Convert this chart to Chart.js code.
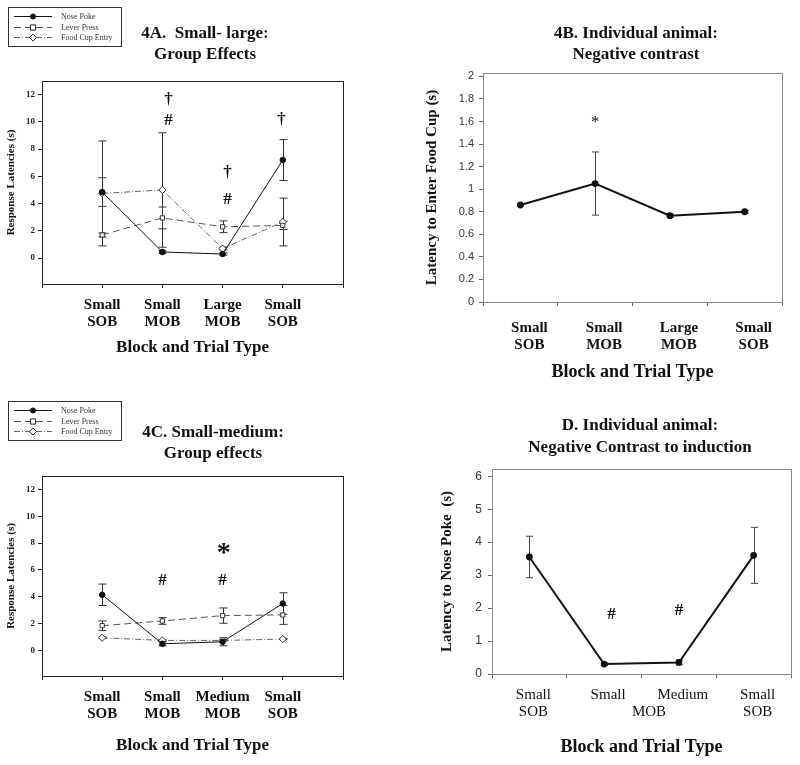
<!DOCTYPE html>
<html>
<head>
<meta charset="utf-8">
<script src="https://cdn.jsdelivr.net/npm/chart.js@4.4.0/dist/chart.umd.min.js"></script>
<style>
html, body { margin: 0; padding: 0; background: #fff; }
#fig { position: relative; width: 800px; height: 765px; overflow: hidden; }
#fig canvas { position: absolute; }
.ttl { position: absolute; text-align: center; white-space: nowrap; color: #111;
       font: bold 17px "Liberation Serif", "Times New Roman", serif; line-height: 21px; }
</style>
</head>
<body>
<div id="fig">
  <canvas id="chartA" width="400" height="385" style="left:0;top:0"></canvas>
  <canvas id="chartB" width="400" height="385" style="left:400px;top:0"></canvas>
  <canvas id="chartC" width="400" height="380" style="left:0;top:385px"></canvas>
  <canvas id="chartD" width="400" height="380" style="left:400px;top:385px"></canvas>
  <div class="ttl" style="left:105px;top:22px;width:200px">4A.&nbsp; Small- large:<br>Group Effects</div>
  <div class="ttl" style="left:536px;top:22px;width:200px">4B. Individual animal:<br>Negative contrast</div>
  <div class="ttl" style="left:113px;top:421px;width:200px">4C. Small-medium:<br>Group effects</div>
  <div class="ttl" style="left:490px;top:414px;width:300px;line-height:22px">D. Individual animal:<br>Negative Contrast to induction</div>
</div>
<script>
//<![CDATA[

// ---- data ----
let seriesNames = ['Nose Poke', 'Lever Press', 'Food Cup Entry'];

// 4A. small-large, group
let catsA = [['Small', 'SOB'], ['Small', 'MOB'], ['Large', 'MOB'], ['Small', 'SOB']];
let noseA = [4.85, 0.45, 0.3, 7.2];
let noseErrA = [1.05, 0.1, 0.08, 1.5];
let leverA = [1.7, 2.95, 2.3, 2.4];
let leverErrA = [0.15, 0.8, 0.43, 0.3];
let foodA = [4.75, 5.0, 0.7, 2.65];
let foodErrA = [3.85, 4.2, 0.1, 1.75];
let marksA = [
    { x: 2.1, y: 11.6, t: '†' },
    { x: 2.1, y: 10.1, t: '#' },
    { x: 3.08, y: 6.3, t: '†' },
    { x: 3.08, y: 4.3, t: '#' },
    { x: 3.98, y: 10.2, t: '†' }
];

// 4B. individual animal, food cup
let catsB = [['Small', 'SOB'], ['Small', 'MOB'], ['Large', 'MOB'], ['Small', 'SOB']];
let foodCupB = [0.86, 1.05, 0.765, 0.8];
let foodCupErrB = [0.01, 0.28, 0.015, 0.01];
let yTicksB = [0, 0.2, 0.4, 0.6, 0.8, 1, 1.2, 1.4, 1.6, 1.8, 2];
let marksB = [{ x: 1, y: 1.59, t: '*' }];

// 4C. small-medium, group
let catsC = [['Small', 'SOB'], ['Small', 'MOB'], ['Medium', 'MOB'], ['Small', 'SOB']];
let noseC = [4.15, 0.5, 0.65, 3.5];
let noseErrC = [0.8, 0.15, 0.3, 0.8];
let leverC = [1.85, 2.2, 2.6, 2.65];
let leverErrC = [0.35, 0.25, 0.57, 0.7];
let foodC = [0.95, 0.75, 0.75, 0.85];
let foodErrC = [0.05, 0.05, 0.05, 0.05];
let marksC = [
    { x: 2, y: 5.24, t: '#' },
    { x: 3, y: 5.24, t: '#' },
    { x: 3.02, y: 7.2, t: '*', big: true }
];

// D. individual animal, nose poke
let catsD = [['Small', 'SOB'], ['Small'], ['Medium'], ['Small', 'SOB']];
let nosePokeD = [3.55, 0.3, 0.35, 3.6];
let nosePokeErrD = [0.63, 0.04, 0.07, 0.85];
let yTicksD = [0, 1, 2, 3, 4, 5, 6];
let marksD = [
    { x: 1.1, y: 1.8, t: '#' },
    { x: 2, y: 1.93, t: '#' },
    { x: 1.6, dy: 38, t: 'MOB', plain: true }
];

let yTicksGroup = [0, 2, 4, 6, 8, 10, 12];

const SERIF = '"Liberation Serif", "Times New Roman", serif';
const SANS = '"Liberation Sans", Arial, sans-serif';

// ---- plugins ----
const errorBars = {
    id: 'errorBars',
    beforeDatasetsDraw(chart, args, opts) {
        const ctx = chart.ctx;
        const ys = chart.scales.y;
        ctx.save();
        ctx.strokeStyle = opts.color || '#333';
        ctx.lineWidth = 1;
        chart.data.datasets.forEach((ds, i) => {
            if (!ds.errors) return;
            const meta = chart.getDatasetMeta(i);
            meta.data.forEach((pt, j) => {
                const e = ds.errors[j];
                const d = ds.data[j];
                const v = typeof d === 'object' ? d.y : d;
                if (e == null || v == null) return;
                const x = Math.round(pt.x) + 0.5;
                const yt = ys.getPixelForValue(v + e);
                const yb = ys.getPixelForValue(v - e);
                const c = opts.cap || 4;
                ctx.beginPath();
                ctx.moveTo(x, yt); ctx.lineTo(x, yb);
                ctx.moveTo(x - c, yt); ctx.lineTo(x + c, yt);
                ctx.moveTo(x - c, yb); ctx.lineTo(x + c, yb);
                ctx.stroke();
            });
        });
        ctx.restore();
    }
};

const frame = {
    id: 'frame',
    beforeDatasetsDraw(chart, args, opts) {
        const { left, top, right, bottom } = chart.chartArea;
        const ctx = chart.ctx;
        ctx.save();
        ctx.strokeStyle = opts.color || '#222';
        ctx.lineWidth = 1;
        ctx.strokeRect(Math.round(left) + 0.5, Math.round(top) + 0.5,
            Math.round(right - left), Math.round(bottom - top));
        ctx.restore();
    }
};

const marks = {
    id: 'marks',
    afterDatasetsDraw(chart, args, opts) {
        const ctx = chart.ctx, xs = chart.scales.x, ys = chart.scales.y;
        ctx.save();
        ctx.fillStyle = '#111';
        ctx.textAlign = 'center';
        ctx.textBaseline = 'middle';
        (opts.items || []).forEach(m => {
            ctx.font = m.big ? opts.bigFont : (m.plain ? opts.plainFont : opts.font);
            const y = m.dy != null ? chart.chartArea.bottom + m.dy : ys.getPixelForValue(m.y);
            ctx.fillText(m.t, xs.getPixelForValue(m.x), y);
        });
        ctx.restore();
    }
};

function drawMarker(ctx, style, x, y, r) {
    ctx.beginPath();
    if (style === 'rect') {
        ctx.rect(x - r, y - r, 2 * r, 2 * r);
    } else if (style === 'rectRot') {
        ctx.moveTo(x, y - r - 1); ctx.lineTo(x + r + 1, y);
        ctx.lineTo(x, y + r + 1); ctx.lineTo(x - r - 1, y); ctx.closePath();
    } else {
        ctx.arc(x, y, r, 0, Math.PI * 2);
    }
    ctx.fill();
    ctx.stroke();
}

const boxLegend = {
    id: 'boxLegend',
    afterDraw(chart, args, opts) {
        const ctx = chart.ctx;
        ctx.save();
        ctx.lineWidth = 1;
        ctx.strokeStyle = '#333';
        ctx.strokeRect(opts.x + 0.5, opts.y + 0.5, opts.w, opts.h);
        ctx.font = '8px ' + SERIF;
        ctx.textBaseline = 'middle';
        chart.data.datasets.forEach((ds, i) => {
            const y = Math.round(opts.y + 9 + i * 10.5) + 0.5;
            ctx.strokeStyle = ds.borderColor;
            ctx.setLineDash(ds.borderDash || []);
            ctx.beginPath();
            ctx.moveTo(opts.x + 6, y); ctx.lineTo(opts.x + 44, y);
            ctx.stroke();
            ctx.setLineDash([]);
            ctx.fillStyle = ds.pointBackgroundColor;
            ctx.strokeStyle = '#222';
            drawMarker(ctx, ds.pointStyle, opts.x + 25, y, 2.6);
            ctx.fillStyle = '#333';
            ctx.fillText(ds.label, opts.x + 53, y);
        });
        ctx.restore();
    }
};

// ---- group charts (A, C) ----
function groupChart(id, cats, nose, noseErr, lever, leverErr, food, foodErr, markList, pad, xHeight, legendY) {
    const pts = arr => arr.map((v, i) => ({ x: i + 1, y: v }));
    const xTicks = Array.from({ length: cats.length + 2 }, (_, i) => i);
    return new Chart(document.getElementById(id), {
        type: 'line',
        data: {
            datasets: [
                {
                    label: seriesNames[0], data: pts(nose), errors: noseErr,
                    borderColor: '#111', borderWidth: 1, pointStyle: 'circle', pointRadius: 2.8,
                    pointBackgroundColor: '#111', pointBorderColor: '#111'
                },
                {
                    label: seriesNames[1], data: pts(lever), errors: leverErr,
                    borderColor: '#555', borderWidth: 1, borderDash: [7, 4], pointStyle: 'rect', pointRadius: 3,
                    pointBackgroundColor: '#fff', pointBorderColor: '#333'
                },
                {
                    label: seriesNames[2], data: pts(food), errors: foodErr,
                    borderColor: '#666', borderWidth: 1, borderDash: [6, 2, 1, 2], pointStyle: 'rectRot', pointRadius: 3.6,
                    pointBackgroundColor: '#fff', pointBorderColor: '#333'
                }
            ]
        },
        options: {
            responsive: false,
            animation: false,
            devicePixelRatio: 1,
            layout: { padding: pad },
            plugins: {
                legend: { display: false },
                tooltip: { enabled: false },
                errorBars: { color: '#333', cap: 4 },
                frame: { color: '#222' },
                marks: {
                    items: markList,
                    font: 'bold 17px ' + SERIF,
                    bigFont: 'bold 28px ' + SERIF,
                    plainFont: '15px ' + SERIF
                },
                boxLegend: { x: 8, y: legendY, w: 113, h: 39 }
            },
            scales: {
                x: {
                    type: 'linear', min: 0, max: cats.length + 1,
                    afterBuildTicks: s => { s.ticks = xTicks.map(v => ({ value: v })); },
                    afterFit: s => { s.height = xHeight; },
                    ticks: {
                        callback: v => cats[v - 1] || '',
                        font: { family: SERIF, size: 15, weight: 'bold', lineHeight: 1.15 },
                        color: '#111', padding: 8, maxRotation: 0, autoSkip: false
                    },
                    grid: { drawOnChartArea: false, drawTicks: true, tickLength: 4, color: '#222' },
                    border: { display: true, color: '#222' },
                    title: {
                        display: true, text: 'Block and Trial Type', color: '#111',
                        font: { family: SERIF, size: 17, weight: 'bold' },
                        padding: { top: 0, bottom: pad.xTitle }
                    }
                },
                y: {
                    min: -1.9, max: 13,
                    afterBuildTicks: s => { s.ticks = yTicksGroup.map(v => ({ value: v })); },
                    afterFit: s => { s.width = 42; },
                    ticks: {
                        font: { family: SERIF, size: 9, weight: 'bold' },
                        color: '#222', padding: 3
                    },
                    grid: { drawOnChartArea: false, drawTicks: true, tickLength: 4, color: '#222' },
                    border: { display: true, color: '#222' },
                    title: {
                        display: true, text: 'Response Latencies (s)', color: '#111',
                        font: { family: SERIF, size: 11, weight: 'bold' },
                        padding: { top: 5, bottom: 0 }
                    }
                }
            }
        },
        plugins: [errorBars, frame, marks, boxLegend]
    });
}

// ---- individual charts (B, D) ----
function singleChart(id, cats, values, errs, markList, cfg) {
    return new Chart(document.getElementById(id), {
        type: 'line',
        data: {
            labels: cats,
            datasets: [{
                label: cfg.series, data: values, errors: errs,
                borderColor: '#111', borderWidth: 2, pointStyle: 'circle', pointRadius: 2.4,
                pointBackgroundColor: '#111', pointBorderColor: '#111'
            }]
        },
        options: {
            responsive: false,
            animation: false,
            devicePixelRatio: 1,
            layout: { padding: cfg.pad },
            plugins: {
                legend: { display: false },
                tooltip: { enabled: false },
                errorBars: { color: '#444', cap: 3.5 },
                frame: { color: '#888' },
                marks: {
                    items: markList,
                    font: cfg.markFont,
                    bigFont: cfg.markFont,
                    plainFont: '15px ' + SERIF
                }
            },
            scales: {
                x: {
                    type: 'category', offset: true,
                    afterFit: s => { s.height = cfg.xHeight; },
                    ticks: {
                        font: { family: SERIF, size: 15, weight: cfg.xWeight, lineHeight: 1.15 },
                        color: '#111', padding: cfg.xPad, labelOffset: cfg.labelOffset,
                        maxRotation: 0, autoSkip: false
                    },
                    grid: { offset: true, drawOnChartArea: false, drawTicks: true, tickLength: 4, color: '#666' },
                    border: { display: true, color: '#555' },
                    title: {
                        display: true, text: 'Block and Trial Type', color: '#111',
                        font: { family: SERIF, size: 18, weight: 'bold' },
                        padding: { top: 0, bottom: cfg.xTitlePad }
                    }
                },
                y: {
                    min: 0, max: cfg.yMax,
                    afterBuildTicks: s => { s.ticks = cfg.yTicks.map(v => ({ value: v })); },
                    afterFit: s => { s.width = cfg.yWidth; },
                    ticks: {
                        callback: v => String(Math.round(v * 10) / 10),
                        font: { family: SANS, size: cfg.yFont },
                        color: '#333', padding: cfg.yPad
                    },
                    grid: { drawOnChartArea: false, drawTicks: true, tickLength: 4, color: '#666' },
                    border: { display: true, color: '#555' },
                    title: {
                        display: true, text: cfg.yTitle, color: '#111',
                        font: { family: SERIF, size: 15, weight: 'bold' },
                        padding: { top: cfg.yTitlePad, bottom: 0 }
                    }
                }
            }
        },
        plugins: [errorBars, frame, marks]
    });
}

groupChart('chartA', catsA, noseA, noseErrA, leverA, leverErrA, foodA, foodErrA, marksA,
    { left: 0, top: 81, right: 57, bottom: 21, xTitle: 6 }, 80, 7);

groupChart('chartC', catsC, noseC, noseErrC, leverC, leverErrC, foodC, foodErrC, marksC,
    { left: 0, top: 91, right: 57, bottom: 0, xTitle: 9 }, 89, 16);

singleChart('chartB', catsB, foodCupB, foodCupErrB, marksB, {
    series: 'Food Cup Entry',
    pad: { left: 0, top: 73, right: 18, bottom: 0 },
    xHeight: 83, xPad: 13, xTitlePad: 2, xWeight: 'bold', labelOffset: 9,
    yMax: 2.03, yTicks: yTicksB, yWidth: 83, yPad: 5, yFont: 11, yTitlePad: 23,
    yTitle: 'Latency to Enter Food Cup (s)',
    markFont: '17px ' + SERIF
});

singleChart('chartD', catsD, nosePokeD, nosePokeErrD, marksD, {
    series: 'Nose Poke',
    pad: { left: 0, top: 84, right: 9, bottom: 0 },
    xHeight: 91, xPad: 8, xTitlePad: 7, xWeight: 'normal', labelOffset: 4,
    yMax: 6.22, yTicks: yTicksD, yWidth: 92, yPad: 6, yFont: 12, yTitlePad: 38,
    yTitle: 'Latency to Nose Poke  (s)',
    markFont: 'bold 17px ' + SERIF
});

// ]]>
</script>
</body>
</html>
